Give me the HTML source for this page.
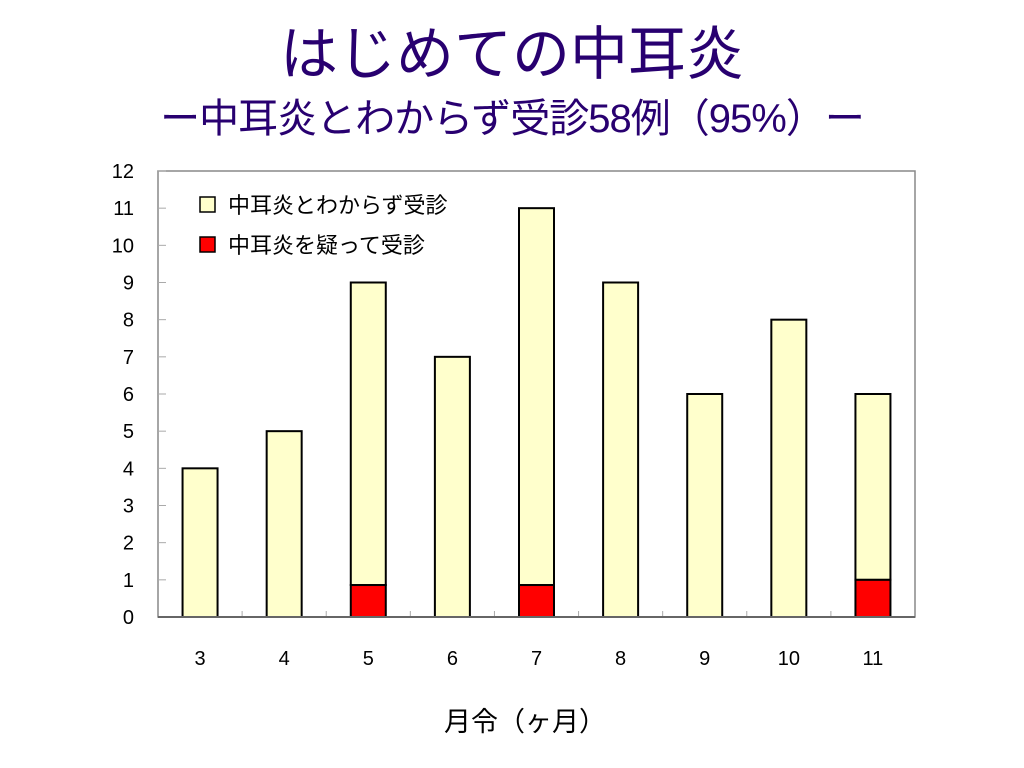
<!DOCTYPE html>
<html><head><meta charset="utf-8">
<style>
body{margin:0;background:#fff;width:1024px;height:768px;overflow:hidden;font-family:"Liberation Sans","Noto Sans CJK JP",sans-serif;}
.t1{position:absolute;left:0;width:1024px;top:20px;text-align:center;font-size:58px;color:#280070;line-height:70px;}
.t2{position:absolute;left:0;width:1024px;top:96px;text-align:center;font-size:40px;color:#280070;line-height:46px;letter-spacing:-1px;}
svg{position:absolute;left:0;top:0;}
</style></head><body>
<div class="t1">はじめての中耳炎</div>
<div class="t2">ー中耳炎とわからず受診58例（95%）ー</div>
<svg id="c" width="1024" height="768"></svg>
<script>
const categories=["3","4","5","6","7","8","9","10","11"];
const totals=[4,5,9,7,11,9,6,8,6];
const suspected=[0,0,0.86,0,0.86,0,0,0,1];
const yTicks=[0,1,2,3,4,5,6,7,8,9,10,11,12];
const NS="http://www.w3.org/2000/svg";
const svg=document.getElementById('c');
const L=158,R=915,T=171,B=617,yMax=12;
const y=v=>B-(v/yMax)*(B-T);
const bw=(R-L)/categories.length;
const x=i=>L+bw*i+bw/2;
function mk(tag,attrs,parent){const e=document.createElementNS(NS,tag);for(const k in attrs)e.setAttribute(k,attrs[k]);(parent||svg).appendChild(e);return e;}
const frame=mk('rect',{x:L,y:T,width:R-L,height:B-T,fill:'#fff',stroke:'#888','stroke-width':1.5});


yTicks.forEach(v=>{
 const ln=mk('line',{x1:L,x2:L+8,y1:y(v),y2:y(v),stroke:'#aaa'});
 
 
 const t=mk('text',{x:134,y:y(v)+7,'text-anchor':'end','font-size':20,fill:'#000'});
 t.textContent=v;
 
 
});
categories.forEach((c,i)=>{
 if(i>0){const tk=mk('line',{x1:L+bw*i,x2:L+bw*i,y1:B,y2:B-6,stroke:'#aaa'});
 
 }
 const bx=x(i)-17.5;
 const yb=mk('rect',{x:bx,y:y(totals[i]),width:35,height:y(suspected[i])-y(totals[i]),fill:'#ffffcc',stroke:'#000','stroke-width':2});
 
 
 if(suspected[i]>0){const rb=mk('rect',{x:bx,y:y(suspected[i]),width:35,height:B-y(suspected[i]),fill:'#ff0000',stroke:'#000','stroke-width':2});
 
 }
 const t=mk('text',{x:x(i),y:665,'text-anchor':'middle','font-size':20,fill:'#000'});
 t.textContent=c;
 
 
});
const ax=mk('line',{x1:L,x2:R,y1:B,y2:B,stroke:'#666','stroke-width':2});


const xt=mk('text',{x:525,y:731,'text-anchor':'middle','font-size':27,fill:'#000'});
xt.textContent='月令（ヶ月）';


[['#ffffcc','中耳炎とわからず受診',205],['#ff0000','中耳炎を疑って受診',245]].forEach((d,k)=>{
 const g=mk('g',{});
 
 
 mk('rect',{x:200,y:d[2]-8,width:15,height:15,fill:d[0],stroke:'#000','stroke-width':1.5},g);
 const t=mk('text',{x:228,y:d[2]+8,'font-size':22,fill:'#000'},g);
 t.textContent=d[1];
});
</script>
</body></html>
